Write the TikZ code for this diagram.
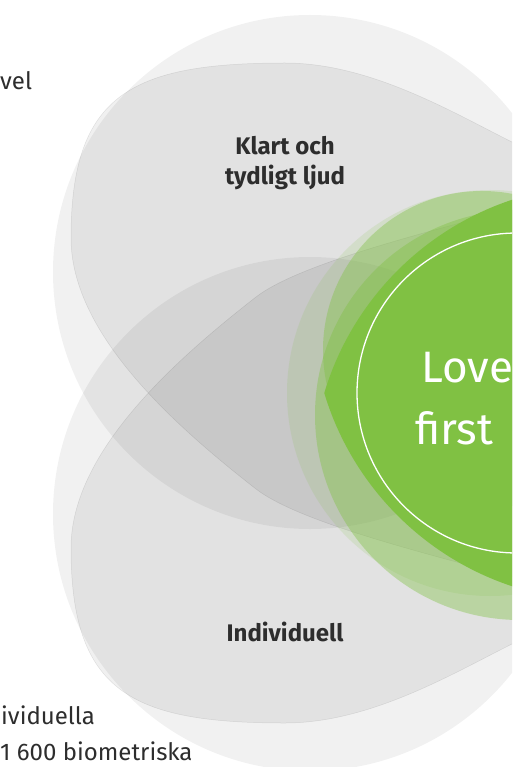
\documentclass[tikz,border=0pt]{standalone}
\usepackage{fontspec}
\setmainfont{Fira Sans}
\definecolor{lgreen}{RGB}{128,193,67}
\definecolor{txt}{RGB}{45,45,45}
\tikzset{
  outer/.style={fill=black, fill opacity=0.055},
  inner/.style={fill=black, fill opacity=0.06, draw=black, draw opacity=0.09, line width=0.5pt},
  label/.style={text=txt, font=\bfseries\fontsize{24}{30}\selectfont, align=center, inner sep=0pt},
  side/.style={text=txt, font=\fontsize{24}{28}\selectfont, inner sep=0pt, anchor=base west},
  big/.style={text=white, font=\fontsize{44}{54}\selectfont, inner sep=0pt, anchor=base west}
}
\begin{document}
\begin{tikzpicture}[x=1pt,y=-1pt]
\useasboundingbox (0,0) rectangle (512,767);
\clip (0,0) rectangle (512,767);
\fill[white] (0,0) rectangle (512,767);
% outer circles
\fill[outer] (310,272) circle[radius=257pt];
\fill[outer] (310,514) circle[radius=257pt];
% inner petals
\def\petal{(71,238) .. controls (71,95) and (130,63) .. (285,63)
 .. controls (370,63) and (452,112) .. (512,142)
 .. controls (560,166) and (610,190) .. (640,230)
 .. controls (670,300) and (670,380) .. (660,470)
 .. controls (650,540) and (572,594) .. (512,577)
 .. controls (432,555) and (300,523) .. (256,489)
 .. controls (166,419) and (71,330) .. (71,238) -- cycle}
\path[inner] \petal;
\begin{scope}[yshift=-786pt, yscale=-1]
\path[inner] \petal;
\end{scope}
% green
\fill[lgreen, fill opacity=0.15] (490,393) circle[radius=203pt];
\fill[lgreen, fill opacity=0.40] (520,415) circle[radius=205pt];
\fill[lgreen, fill opacity=0.40] (482,350) circle[radius=159pt];
\begin{scope}
\clip (604,477) circle[radius=292pt];
\fill[lgreen] (604,309) circle[radius=292pt];
\end{scope}
\draw[white, line width=1.3pt] (517,393) circle[radius=160pt];
% texts
\node[label] (klart) at (285,163) {Klart och\\tydligt ljud};
\node[label, anchor=base] (indiv) at (285,641) {Individuell};
\node[big] (love) at (421,382) {Love};
\node[big] (first) at (415,444) {first};
\node[side] (vel) at (0,90) {vel};
\node[side] (ivid) at (1,724) {ividuella};
\node[side] (bio) at (0,760) {1 600 biometriska};
\end{tikzpicture}
\end{document}
